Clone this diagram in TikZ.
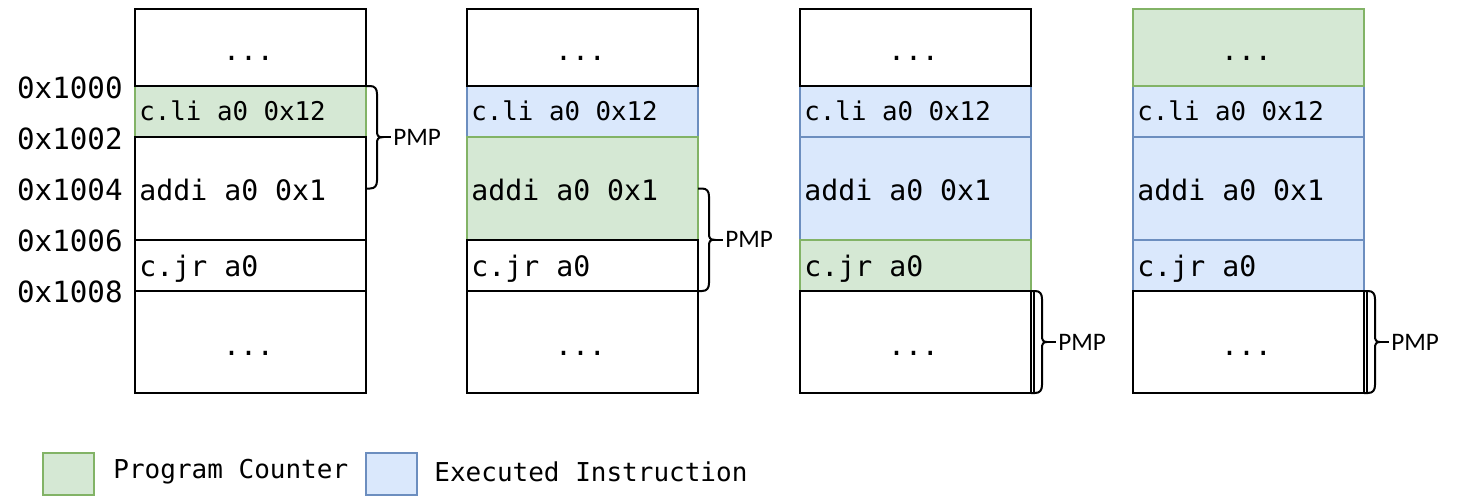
\documentclass[tikz,border=0pt]{standalone}
\usepackage{fontspec}
\setmainfont{Carlito}
\newfontfamily\codefont{DejaVu Sans Mono}
\usetikzlibrary{calc}
\definecolor{pcfill}{HTML}{D5E8D4}
\definecolor{pcline}{HTML}{82B366}
\definecolor{exfill}{HTML}{DAE8FC}
\definecolor{exline}{HTML}{6C8EBF}
% curly brace from #1 (top) to #2 (bottom) with the label node #3
\newcommand\pmpbrace[3]{%
  \draw[line width=1pt] (#1) -- ++(4,0) .. controls +(5,0) and +(0,-5) .. ++(7,8)
    -- ($($(#1)!0.5!(#2)$)+(11,-6)$)
    .. controls +(0,4) and +(-4,0) .. ($($(#1)!0.5!(#2)$)+(16,0)$)
    .. controls +(-4,0) and +(0,-4) .. ($($(#1)!0.5!(#2)$)+(11,6)$)
    -- ($(#2)+(11,-8)$) .. controls +(0,5) and +(5,0) .. ($(#2)+(4,0)$) -- (#2);
  \draw[line width=1pt] ($($(#1)!0.5!(#2)$)+(16,0)$) -- ($($(#1)!0.5!(#2)$)+(25,0)$);
  \node[pmplabel] (#3) at ($($(#1)!0.5!(#2)$)+(27,0)$) {PMP};}
\begin{document}
\begin{tikzpicture}[x=0.5pt,y=-0.5pt,
  cell/.style={rectangle, draw=black, line width=1pt, fill=white,
    inner sep=0pt, outer sep=0pt, anchor=north west, minimum width=115.5pt},
  pc/.style={cell, draw=pcline, fill=pcfill},
  ex/.style={cell, draw=exline, fill=exfill},
  rowA/.style={minimum height=38.5pt},
  rowB/.style={minimum height=25.5pt},
  rowC/.style={minimum height=51.5pt},
  rowD/.style={minimum height=51pt},
  code/.style={anchor=base west, inner sep=0pt,
    font=\codefont\fontsize{14.1}{16}\selectfont},
  small/.style={font=\codefont\fontsize{12.9}{15}\selectfont},
  dots/.style={anchor=base, inner sep=0pt,
    font=\codefont\fontsize{14.1}{16}\selectfont},
  addr/.style={anchor=base east, inner sep=0pt, font=\codefont\fontsize{14.6}{16}\selectfont},
  pmplabel/.style={anchor=west, inner sep=0pt, font=\fontsize{12.6}{14}\selectfont},
  legbox/.style={rectangle, line width=1pt, anchor=north west, minimum width=25.5pt,
    minimum height=21pt, inner sep=0pt},
  legtext/.style={anchor=west, inner sep=0pt, font=\codefont\fontsize{13}{15}\selectfont}
]
\fill[white] (0,0) rectangle (1458,498);
\useasboundingbox (0,0) rectangle (1458,498);

% column 1: program counter at c.li
\node[pc, rowB] (a2) at (135,86) {};
\node[cell, rowA] (a1) at (135,9) {};
\node[cell, rowC] (a3) at (135,137) {};
\node[cell, rowB] (a4) at (135,240) {};
\node[cell, rowD] (a5) at (135,291) {};

% column 2: program counter at addi
\node[ex, rowB] (b2) at (467,86) {};
\node[pc, rowC] (b3) at (467,137) {};
\node[cell, rowA] (b1) at (467,9) {};
\node[cell, rowB] (b4) at (467,240) {};
\node[cell, rowD] (b5) at (467,291) {};

% column 3: program counter at c.jr
\node[ex, rowB] (c2) at (800,86) {};
\node[ex, rowC] (c3) at (800,137) {};
\node[pc, rowB] (c4) at (800,240) {};
\node[cell, rowA] (c1) at (800,9) {};
\node[cell, rowD] (c5) at (800,291) {};

% column 4: program counter above c.li
\node[ex, rowB] (d2) at (1133,86) {};
\node[ex, rowC] (d3) at (1133,137) {};
\node[ex, rowB] (d4) at (1133,240) {};
\node[pc, rowA] (d1) at (1133,9) {};
\node[cell, rowD] (d5) at (1133,291) {};

% cell contents
\foreach \c in {a,b,c,d}{
  \node[dots] (\c1t) at ([shift={(-2,13)}]\c1.center) {...};
  \node[code, small] (\c2t) at ([shift={(4,9)}]\c2.west) {c.li a0 0x12};
  \node[code] (\c3t) at ([shift={(4,12)}]\c3.west) {addi a0 0x1};
  \node[code] (\c4t) at ([shift={(4,10.5)}]\c4.west) {c.jr a0};
  \node[dots] (\c5t) at ([shift={(-2,13)}]\c5.center) {...};
}

% addresses
\node[addr] (m0) at (123,98) {0x1000};
\node[addr] (m2) at (123,149) {0x1002};
\node[addr] (m4) at (123,200) {0x1004};
\node[addr] (m6) at (123,251) {0x1006};
\node[addr] (m8) at (123,302) {0x1008};

% PMP regions
\pmpbrace{a2.north east}{a3.east}{p1}
\pmpbrace{b3.east}{b4.south east}{p2}
\draw[line width=1pt] ([shift={(3,0)}]c5.north east) -- ([shift={(3,0)}]c5.south east);
\pmpbrace{c5.north east}{c5.south east}{p3}
\draw[line width=1pt] ([shift={(3,0)}]d5.north east) -- ([shift={(3,0)}]d5.south east);
\pmpbrace{d5.north east}{d5.south east}{p4}

% legend
\node[legbox, draw=pcline, fill=pcfill] (lg) at (42,452) {};
\node[legtext] (lgt) at (113,472) {Program Counter};
\node[legbox, draw=exline, fill=exfill] (lb) at (365,452) {};
\node[legtext] (lbt) at (434,472) {Executed Instruction};
\end{tikzpicture}
\end{document}
